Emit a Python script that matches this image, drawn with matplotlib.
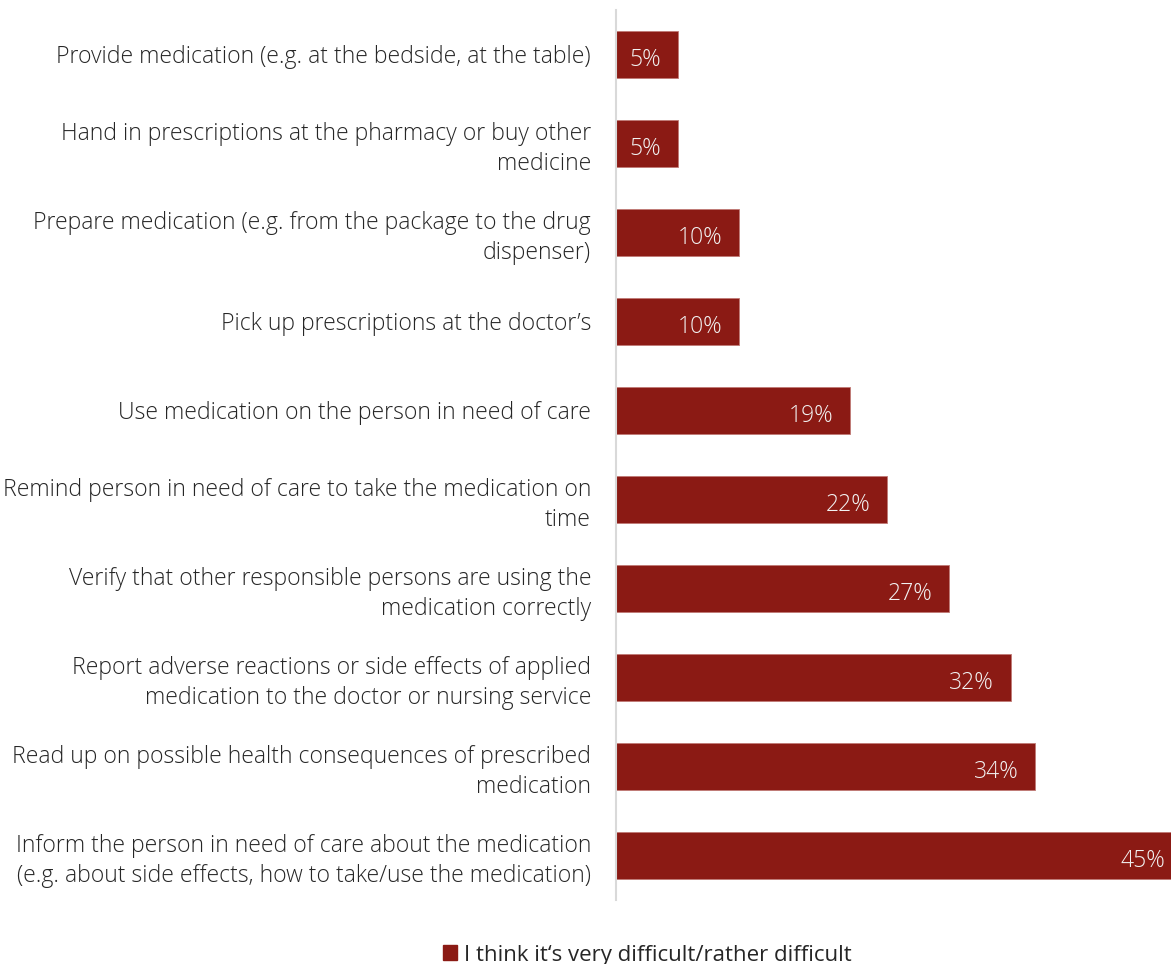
import matplotlib
matplotlib.use("Agg")
import matplotlib.pyplot as plt
from matplotlib.patches import Patch

categories = [
    "Provide medication (e.g. at the bedside, at the table)",
    "Hand in prescriptions at the pharmacy or buy other\nmedicine",
    "Prepare medication (e.g. from the package to the drug\ndispenser)",
    "Pick up prescriptions at the doctor\u2019s",
    "Use medication on the person in need of care",
    "Remind person in need of care to take the medication on\ntime",
    "Verify that other responsible persons are using the\nmedication correctly",
    "Report adverse reactions or side effects of applied\nmedication to the doctor or nursing service",
    "Read up on possible health consequences of prescribed\nmedication",
    "Inform the person in need of care about the medication\n(e.g. about side effects, how to take/use the medication)",
]
values = [5, 5, 10, 10, 19, 22, 27, 32, 34, 45]
series_name = "I think it\u2018s very difficult/rather difficult"

bar_color = "#8B1A14"
plt.rcParams["font.family"] = ["Open Sans", "DejaVu Sans"]

fig = plt.figure(figsize=(11.71, 9.64), dpi=100)
ax = fig.add_axes([616 / 1171, 1 - 900 / 964, 1 - 616 / 1171, 890 / 964])

xmax = 45
ypos = list(range(len(categories)))
bars = ax.barh(ypos, values, height=0.53, color=bar_color,
               edgecolor="#c07a75", linewidth=0.6)
ax.set_ylim(len(categories) - 0.5, -0.5)
ax.set_xlim(0, xmax)

for b, v in zip(bars, values):
    # keep the label inside the plotting area for the longest bar
    dx = -4 if b.get_width() >= xmax else -12
    ax.annotate(f"{v}%", xy=(b.get_width(), b.get_y() + b.get_height() / 2),
                xytext=(dx, -2), textcoords="offset points",
                ha="right", va="center_baseline", color="#f2f2f2", fontsize=16.5,
                fontweight="light")

ax.set_yticks(ypos)
ax.set_yticklabels(categories, fontsize=16.6, color="#262626",
                   fontweight="light", linespacing=1.3)
for t in ax.get_yticklabels():
    t.set_horizontalalignment("right")
ax.tick_params(axis="y", length=0, pad=18)
ax.set_xticks([])
for s in ["top", "right", "bottom"]:
    ax.spines[s].set_visible(False)
ax.spines["left"].set_color("#d9d9d9")
ax.spines["left"].set_linewidth(1.5)

fig.legend(handles=[Patch(facecolor=bar_color, edgecolor=bar_color)],
           labels=[series_name], loc="center", bbox_to_anchor=(647 / 1171, 1 - 955 / 964),
           frameon=False, fontsize=16, handlelength=0.65, handleheight=0.65,
           handletextpad=0.3, labelcolor="#262626")

fig.savefig("out.png", dpi=100)
